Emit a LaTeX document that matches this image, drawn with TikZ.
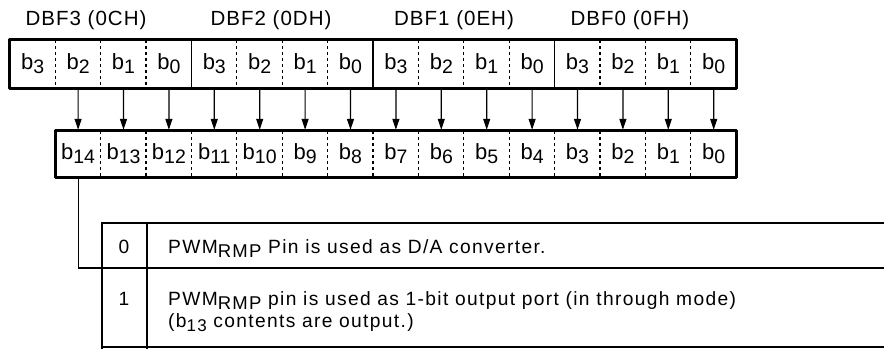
\documentclass[tikz,border=0pt]{standalone}
\usepackage{fontspec}
\setmainfont{Liberation Sans}
\newfontfamily\hdrfont{Liberation Sans}[LetterSpace=5]
\newfontfamily\tabfont{Liberation Sans}[LetterSpace=7]
\usetikzlibrary{arrows.meta}
\newcommand\bsub[2]{#1\raisebox{-4pt}{\fontsize{19.5pt}{19.5pt}\selectfont #2}}
\newcommand\tsub[2]{#1\raisebox{-4pt}{\fontsize{17pt}{17pt}\selectfont #2}}
\newcommand\rmp{\raisebox{-4pt}{\fontsize{18.5pt}{18.5pt}\selectfont RMP}}
\tikzset{
  cell/.style={inner sep=0pt, minimum width=45.4pt, font=\fontsize{22pt}{22pt}\selectfont},
  frame/.style={line width=3pt, line join=round},
  groupdiv/.style={line width=1.5pt},
  dashdiv/.style={line width=1.1pt, dash pattern=on 3.5pt off 2.5pt},
  arr/.style={line width=1.2pt, -{Triangle[length=11pt,width=7pt]}},
  conn/.style={line width=1.2pt},
  hdr/.style={inner sep=0pt, font=\hdrfont\fontsize{20.5pt}{20.5pt}\selectfont},
  tabtxt/.style={inner sep=0pt, font=\tabfont\fontsize{19.2pt}{19.2pt}\selectfont},
  thickrule/.style={line width=2.8pt},
  rule/.style={line width=1.6pt}
}
\begin{document}
\begin{tikzpicture}[x=1pt,y=-1pt]
\useasboundingbox (0,0) rectangle (884,350);
% headers
\node[hdr] (h3) at (86,20) {DBF3 (0CH)};
\node[hdr] (h2) at (271,20) {DBF2 (0DH)};
\node[hdr] (h1) at (454,20) {DBF1 (0EH)};
\node[hdr] (h0) at (630,20) {DBF0 (0FH)};
% top register
\foreach \k in {0,...,15}{
  \pgfmathtruncatemacro\lab{3-mod(\k,4)}
  \node[cell, minimum height=48pt] (t\k) at ({32.7+45.4*\k},64) {\bsub{b}{\lab}};
}
\foreach \k in {1,...,15}{
  \pgfmathtruncatemacro\m{mod(\k,4)}
  \ifnum\m=0
    \draw[groupdiv] (t\k.north west) -- (t\k.south west);
  \else
    \draw[dashdiv] (t\k.north west) -- (t\k.south west);
  \fi
}
\draw[frame] (t0.north west) rectangle (t15.south east);
% bottom register
\foreach \k in {0,...,14}{
  \pgfmathtruncatemacro\lab{14-\k}
  \node[cell, minimum height=46pt] (b\k) at ({78.1+45.4*\k},154) {\bsub{b}{\lab}};
}
\foreach \k in {1,...,14}{
  \draw[dashdiv] (b\k.north west) -- (b\k.south west);
}
\draw[frame] (b0.north west) rectangle (b14.south east);
% arrows
\foreach \k [evaluate=\k as \j using int(\k-1)] in {1,...,15}{
  \draw[arr] (t\k.south) -- ([yshift=1pt]b\j.north);
}
% table
\coordinate (tl) at (102,268);
\draw[conn] (b0.south) |- (tl);
\draw[thickrule] (102,223) -- (884,223);
\draw[rule] (102,268) -- (884,268);
\draw[rule] (102,347) -- (884,347);
\draw[thickrule] (102,222) -- (102,349);
\draw[line width=2pt] (147,223) -- (147,349);
\node[tabtxt, anchor=base] (k0) at (124,253) {0};
\node[tabtxt, anchor=base] (k1) at (124,305) {1};
\node[tabtxt, anchor=base west] (d0) at (168,253) {PWM\rmp{} Pin is used as D/A converter.};
\node[tabtxt, anchor=base west] (d1a) at (168,305) {PWM\rmp{} pin is used as 1-bit output port (in through mode)};
\node[tabtxt, anchor=base west] (d1b) at (168,327) {(\tsub{b}{13} contents are output.)};
\end{tikzpicture}
\end{document}
